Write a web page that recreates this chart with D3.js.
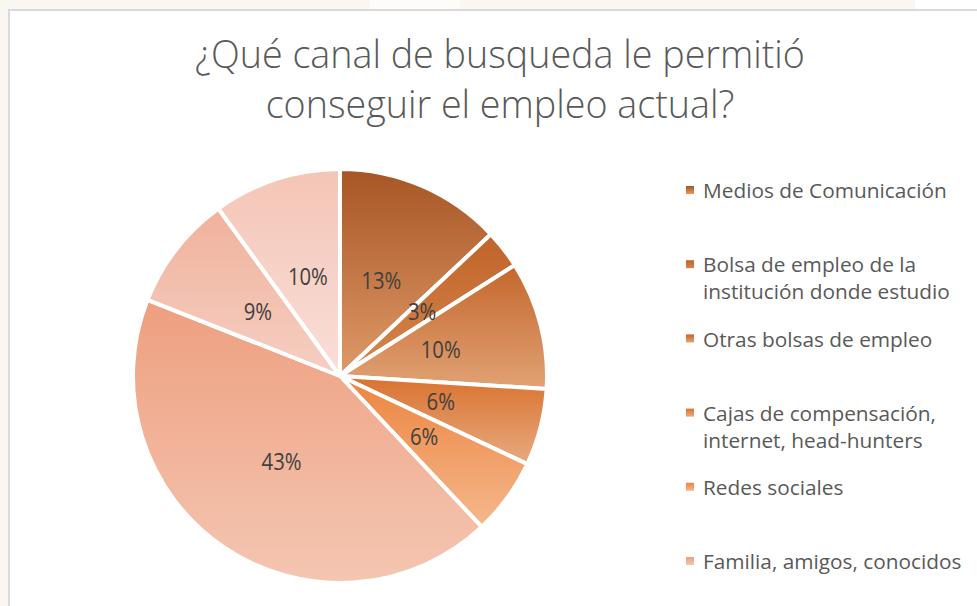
<!DOCTYPE html>
<html>
<head>
<meta charset="utf-8">
<script src="https://cdn.jsdelivr.net/npm/d3@7"></script>
<style>
  body { margin: 0; background: #faf7f2; }
  svg { display: block; font-family: "Open Sans", "Noto Sans", sans-serif; }
</style>
</head>
<body>
<svg id="chart"></svg>
<script>
// data
const categories = [
    "Medios de Comunicación",
    "Bolsa de empleo de la institución donde estudio",
    "Otras bolsas de empleo",
    "Cajas de compensación, internet, head-hunters",
    "Redes sociales",
    "Familia, amigos, conocidos",
    "Otro canal",
    "Ninguno"
];
const legendLines = [
    ["Medios de Comunicación"],
    ["Bolsa de empleo de la", "institución donde estudio"],
    ["Otras bolsas de empleo"],
    ["Cajas de compensación,", "internet, head-hunters"],
    ["Redes sociales"],
    ["Familia, amigos, conocidos"],
    ["Otro canal"],
    ["Ninguno"]
];
const percents = [13, 3, 10, 6, 6, 43, 9, 10];
// gradient top / bottom colours per slice
const topColors = ["#a75524", "#bf6329", "#c4672d", "#d9722f", "#ec843f", "#ee9f7f", "#f0b29b", "#f4c5b6"];
const bottomColors = ["#df9a68", "#d6884f", "#e1a274", "#e8aa80", "#f5b88c", "#f4c6b2", "#f5cfc3", "#f9dfd8"];

const width = 977, height = 606;
const svg = d3.select("#chart").attr("width", width).attr("height", height);

// outer page + chart frame
svg.append("rect").attr("width", width).attr("height", height).attr("fill", "#faf7f2");
svg.append("rect").attr("x", 370).attr("y", 0).attr("width", 90).attr("height", 9).attr("fill", "#fdfcfa");
svg.append("rect").attr("x", 915).attr("y", 0).attr("width", 62).attr("height", 9).attr("fill", "#ffffff");
svg.append("rect")
    .attr("x", 9).attr("y", 10).attr("width", width).attr("height", height)
    .attr("fill", "#fff").attr("stroke", "#d9d9d9").attr("stroke-width", 2);

const defs = svg.append("defs");
percents.forEach((p, i) => {
    const grad = defs.append("linearGradient")
        .attr("id", "g" + i)
        .attr("x1", 0).attr("y1", 0).attr("x2", 0).attr("y2", 1);
    grad.append("stop").attr("offset", "0%").attr("stop-color", topColors[i]);
    grad.append("stop").attr("offset", "100%").attr("stop-color", bottomColors[i]);
});

// fit text of a given font size to a target width
function fitSize(text, target, base, weight) {
    const t = svg.append("text").attr("font-size", base).attr("font-weight", weight).text(text);
    const w = t.node().getComputedTextLength();
    t.remove();
    return base * target / w;
}
// the original font is narrower and taller, stretch single-line labels a little
const stretch = 1.12;

// title
const titleLines = ["¿Qué canal de busqueda le permitió", "conseguir el empleo actual?"];
const titleSize = fitSize(titleLines[0], 610, 36, 300);
svg.append("g").selectAll("text")
    .data(titleLines)
    .join("text")
    .attr("x", 500)
    .attr("y", (d, i) => 68 + i * 50)
    .attr("text-anchor", "middle")
    .attr("font-size", titleSize)
    .attr("font-weight", 300)
    .attr("fill", "#595959")
    .text(d => d);

// pie
const cx = 340, cy = 376, radius = 207;
const pie = d3.pie().sort(null).value(d => d)(percents);
const arc = d3.arc().innerRadius(0).outerRadius(radius);
const labelArc = d3.arc().innerRadius(104).outerRadius(104);

const g = svg.append("g").attr("transform", `translate(${cx},${cy})`);
g.selectAll("path")
    .data(pie)
    .join("path")
    .attr("d", arc)
    .attr("fill", (d, i) => `url(#g${i})`)
    .attr("stroke", "#fff")
    .attr("stroke-width", 4)
    .attr("stroke-linejoin", "round");

const labelSize = fitSize("13%", 40, 20, 400);
g.selectAll("text.pct")
    .data(pie)
    .join("text")
    .attr("class", "pct")
    .attr("transform", d => `translate(${labelArc.centroid(d)}) scale(1,${stretch})`)
    .attr("text-anchor", "middle")
    .attr("dy", "0.35em")
    .attr("font-size", labelSize)
    .attr("fill", "#404040")
    .text(d => d.data + "%");

// legend (entries past the bottom edge are cut off, as in the picture)
const legendSize = fitSize("Medios de Comunicación", 244, 20, 400);
const legendTop = 191, legendStep = 74.2, lineGap = 27;
const legend = svg.append("g");
legendLines.forEach((lines, i) => {
    const y = legendTop + i * legendStep;
    if (y > height) return;
    legend.append("rect")
        .attr("x", 686).attr("y", y - 5)
        .attr("width", 8).attr("height", 8)
        .attr("fill", `url(#g${i})`);
    lines.forEach((line, j) => {
        legend.append("text")
            .attr("x", 703)
            .attr("y", y + j * lineGap)
            .attr("dy", "0.35em")
            .attr("font-size", legendSize)
            .attr("fill", "#595959")
            .text(line);
    });
});
</script>
</body>
</html>
